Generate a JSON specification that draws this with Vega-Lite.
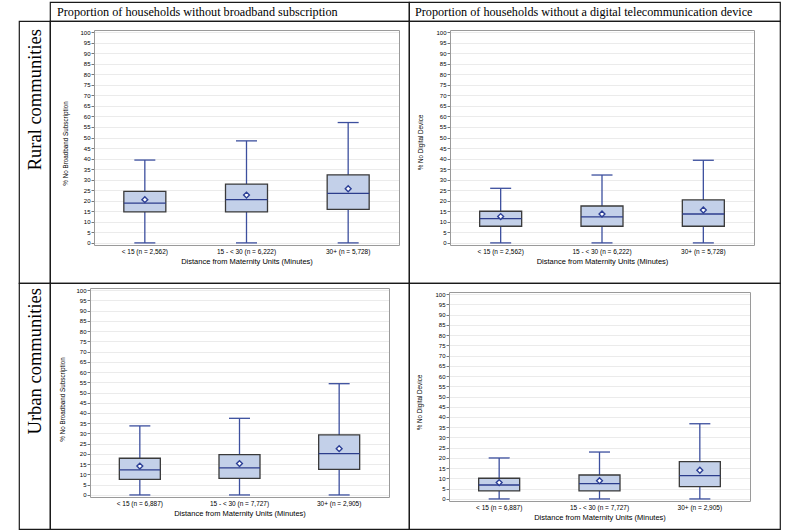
{
  "$schema": "https://vega.github.io/schema/vega-lite/v6.json",
  "padding": {"left": 18, "top": 1, "right": 0, "bottom": 0},
  "background": "white",
  "config": {
    "view": {"stroke": "#1a1a1a", "strokeWidth": 1.2},
    "font": "Liberation Sans",
    "axis": {"labelColor": "#000", "titleColor": "#000", "titleFontWeight": "normal", "domainColor": "#9a9a9a", "tickColor": "#777", "labelFont": "Liberation Sans", "titleFont": "Liberation Sans"}
  },
  "datasets": {
    "ruralBroadband": [
      {"group": "< 15 (n = 2,562)", "min": 0, "q1": 14.7, "median": 18.9, "q3": 24.4, "max": 39.3, "mean": 20.5},
      {"group": "15 - < 30 (n = 6,222)", "min": 0, "q1": 14.7, "median": 20.5, "q3": 27.9, "max": 48.4, "mean": 22.7},
      {"group": "30+ (n = 5,728)", "min": 0, "q1": 15.9, "median": 23.5, "q3": 32.3, "max": 57.1, "mean": 25.7}
    ],
    "ruralDevice": [
      {"group": "< 15 (n = 2,562)", "min": 0, "q1": 7.9, "median": 11.5, "q3": 15.0, "max": 25.9, "mean": 12.5},
      {"group": "15 - < 30 (n = 6,222)", "min": 0, "q1": 7.9, "median": 12.3, "q3": 17.5, "max": 32.2, "mean": 13.7},
      {"group": "30+ (n = 5,728)", "min": 0, "q1": 7.9, "median": 13.7, "q3": 20.4, "max": 39.2, "mean": 15.6}
    ],
    "urbanBroadband": [
      {"group": "< 15 (n = 6,887)", "min": 0, "q1": 7.6, "median": 12.2, "q3": 17.9, "max": 33.7, "mean": 14.1},
      {"group": "15 - < 30 (n = 7,727)", "min": 0, "q1": 8.1, "median": 13.2, "q3": 19.7, "max": 37.4, "mean": 15.3},
      {"group": "30+ (n = 2,905)", "min": 0, "q1": 12.5, "median": 20.2, "q3": 29.3, "max": 54.3, "mean": 22.6}
    ],
    "urbanDevice": [
      {"group": "< 15 (n = 6,887)", "min": 0, "q1": 3.9, "median": 6.8, "q3": 10.1, "max": 20.0, "mean": 8.0},
      {"group": "15 - < 30 (n = 7,727)", "min": 0, "q1": 3.9, "median": 7.5, "q3": 11.7, "max": 22.9, "mean": 8.9},
      {"group": "30+ (n = 2,905)", "min": 0, "q1": 6.0, "median": 11.4, "q3": 18.2, "max": 36.7, "mean": 14.0}
    ]
  },
  "columns": 3,
  "spacing": 0,
  "bounds": "flush",
  "align": "each",
  "concat": [
    {"width": 31, "height": 19, "data": {"values": [{"t": ""}]}, "mark": {"type": "text"}, "encoding": {"text": {"field": "t"}}},
    {"width": 359, "height": 19, "data": {"values": [{"t": "Proportion of households without broadband subscription"}]},
     "mark": {"type": "text", "align": "left", "baseline": "middle", "dx": 7, "font": "Liberation Serif", "fontSize": 12.2, "color": "#000"},
     "encoding": {"text": {"field": "t"}, "x": {"value": 0}}},
    {"width": 371, "height": 19, "data": {"values": [{"t": "Proportion of households without a digital telecommunication device"}]},
     "mark": {"type": "text", "align": "left", "baseline": "middle", "dx": 6, "font": "Liberation Serif", "fontSize": 12.2, "color": "#000"},
     "encoding": {"text": {"field": "t"}, "x": {"value": 0}}},
    {"width": 31, "height": 262, "data": {"values": [{"t": "Rural communities"}]},
     "mark": {"type": "text", "angle": 270, "align": "right", "baseline": "middle", "font": "Liberation Serif", "fontSize": 18.5, "color": "#000"},
     "encoding": {"text": {"field": "t"}, "y": {"value": 8}}},
    {
      "width": 359, "height": 262,
      "data": {"name": "ruralBroadband"},
      "resolve": {"axis": {"x": "independent", "y": "independent"}},
      "layer": [
        {"mark": {"type": "rule", "color": "#3c4f9e", "strokeWidth": 1.3},
         "encoding": {
           "x": {"field": "group", "type": "nominal", "sort": null,
                 "scale": {"type": "band", "range": [44, 349], "paddingInner": 0, "paddingOuter": 0},
                 "axis": {"orient": "bottom", "offset": -38, "title": "Distance from Maternity Units (Minutes)", "titleFontSize": 7.5, "titlePadding": 3, "labelFontSize": 6.5, "labelAngle": 0, "labelPadding": 3, "ticks": false, "grid": false}},
           "y": {"field": "min", "type": "quantitative",
                 "scale": {"domain": [-1, 101], "range": [224, 9], "nice": false, "zero": false},
                 "axis": {"orient": "left", "offset": -44, "title": "% No Broadband Subscription", "titleFontSize": 6.3, "titlePadding": 11, "titleY": 122, "labelFontSize": 6, "labelPadding": 1, "tickSize": 3, "values": [0,5,10,15,20,25,30,35,40,45,50,55,60,65,70,75,80,85,90,95,100], "grid": true, "gridColor": "#ebebeb"}},
           "y2": {"field": "max"}
         }},
        {"mark": {"type": "tick", "color": "#3c4f9e", "size": 21, "thickness": 1.3, "opacity": 1},
         "encoding": {"x": {"field": "group", "type": "nominal", "sort": null, "axis": null}, "y": {"field": "min", "type": "quantitative", "axis": null}}},
        {"mark": {"type": "tick", "color": "#3c4f9e", "size": 21, "thickness": 1.3, "opacity": 1},
         "encoding": {"x": {"field": "group", "type": "nominal", "sort": null, "axis": null}, "y": {"field": "max", "type": "quantitative", "axis": null}}},
        {"mark": {"type": "bar", "size": 42, "fill": "#c3d0e9", "stroke": "#3a3a3a", "strokeWidth": 1.3, "opacity": 1},
         "encoding": {"x": {"field": "group", "type": "nominal", "sort": null, "axis": null}, "y": {"field": "q1", "type": "quantitative", "axis": null}, "y2": {"field": "q3"}}},
        {"mark": {"type": "tick", "color": "#2c3d8c", "size": 42, "thickness": 1.3, "opacity": 1},
         "encoding": {"x": {"field": "group", "type": "nominal", "sort": null, "axis": null}, "y": {"field": "median", "type": "quantitative", "axis": null}}},
        {"mark": {"type": "point", "shape": "diamond", "size": 34, "filled": true, "fill": "white", "stroke": "#2c3f96", "strokeWidth": 1.4, "opacity": 1},
         "encoding": {
           "x": {"field": "group", "type": "nominal", "sort": null, "axis": {"orient": "top", "offset": -9, "labels": false, "ticks": false, "title": null, "grid": false}},
           "y": {"field": "mean", "type": "quantitative", "axis": {"orient": "right", "offset": -10, "labels": false, "ticks": false, "title": null, "grid": false}}
         }}
      ]
    },
    {
      "width": 371, "height": 262,
      "data": {"name": "ruralDevice"},
      "resolve": {"axis": {"x": "independent", "y": "independent"}},
      "layer": [
        {"mark": {"type": "rule", "color": "#3c4f9e", "strokeWidth": 1.3},
         "encoding": {
           "x": {"field": "group", "type": "nominal", "sort": null,
                 "scale": {"type": "band", "range": [41, 345], "paddingInner": 0, "paddingOuter": 0},
                 "axis": {"orient": "bottom", "offset": -38, "title": "Distance from Maternity Units (Minutes)", "titleFontSize": 7.5, "titlePadding": 3, "labelFontSize": 6.5, "labelAngle": 0, "labelPadding": 3, "ticks": false, "grid": false}},
           "y": {"field": "min", "type": "quantitative",
                 "scale": {"domain": [-1, 101], "range": [224, 9], "nice": false, "zero": false},
                 "axis": {"orient": "left", "offset": -41, "title": "% No Digital Device", "titleFontSize": 6.3, "titlePadding": 12, "titleY": 121, "labelFontSize": 6, "labelPadding": 1, "tickSize": 3, "values": [0,5,10,15,20,25,30,35,40,45,50,55,60,65,70,75,80,85,90,95,100], "grid": true, "gridColor": "#ebebeb"}},
           "y2": {"field": "max"}
         }},
        {"mark": {"type": "tick", "color": "#3c4f9e", "size": 21, "thickness": 1.3, "opacity": 1},
         "encoding": {"x": {"field": "group", "type": "nominal", "sort": null, "axis": null}, "y": {"field": "min", "type": "quantitative", "axis": null}}},
        {"mark": {"type": "tick", "color": "#3c4f9e", "size": 21, "thickness": 1.3, "opacity": 1},
         "encoding": {"x": {"field": "group", "type": "nominal", "sort": null, "axis": null}, "y": {"field": "max", "type": "quantitative", "axis": null}}},
        {"mark": {"type": "bar", "size": 42, "fill": "#c3d0e9", "stroke": "#3a3a3a", "strokeWidth": 1.3, "opacity": 1},
         "encoding": {"x": {"field": "group", "type": "nominal", "sort": null, "axis": null}, "y": {"field": "q1", "type": "quantitative", "axis": null}, "y2": {"field": "q3"}}},
        {"mark": {"type": "tick", "color": "#2c3d8c", "size": 42, "thickness": 1.3, "opacity": 1},
         "encoding": {"x": {"field": "group", "type": "nominal", "sort": null, "axis": null}, "y": {"field": "median", "type": "quantitative", "axis": null}}},
        {"mark": {"type": "point", "shape": "diamond", "size": 34, "filled": true, "fill": "white", "stroke": "#2c3f96", "strokeWidth": 1.4, "opacity": 1},
         "encoding": {
           "x": {"field": "group", "type": "nominal", "sort": null, "axis": {"orient": "top", "offset": -9, "labels": false, "ticks": false, "title": null, "grid": false}},
           "y": {"field": "mean", "type": "quantitative", "axis": {"orient": "right", "offset": -26, "labels": false, "ticks": false, "title": null, "grid": false}}
         }}
      ]
    },
    {"width": 31, "height": 246, "data": {"values": [{"t": "Urban communities"}]},
     "mark": {"type": "text", "angle": 270, "align": "right", "baseline": "middle", "font": "Liberation Serif", "fontSize": 18.5, "color": "#000"},
     "encoding": {"text": {"field": "t"}, "y": {"value": 5}}},
    {
      "width": 359, "height": 246,
      "data": {"name": "urbanBroadband"},
      "resolve": {"axis": {"x": "independent", "y": "independent"}},
      "layer": [
        {"mark": {"type": "rule", "color": "#3c4f9e", "strokeWidth": 1.3},
         "encoding": {
           "x": {"field": "group", "type": "nominal", "sort": null,
                 "scale": {"type": "band", "range": [40, 339], "paddingInner": 0, "paddingOuter": 0},
                 "axis": {"orient": "bottom", "offset": -32, "title": "Distance from Maternity Units (Minutes)", "titleFontSize": 7.5, "titlePadding": 3, "labelFontSize": 6.5, "labelAngle": 0, "labelPadding": 3, "ticks": false, "grid": false}},
           "y": {"field": "min", "type": "quantitative",
                 "scale": {"domain": [-1, 101], "range": [214, 5], "nice": false, "zero": false},
                 "axis": {"orient": "left", "offset": -40, "title": "% No Broadband Subscription", "titleFontSize": 6.3, "titlePadding": 10, "titleY": 116, "labelFontSize": 6, "labelPadding": 1, "tickSize": 3, "values": [0,5,10,15,20,25,30,35,40,45,50,55,60,65,70,75,80,85,90,95,100], "grid": true, "gridColor": "#ebebeb"}},
           "y2": {"field": "max"}
         }},
        {"mark": {"type": "tick", "color": "#3c4f9e", "size": 21, "thickness": 1.3, "opacity": 1},
         "encoding": {"x": {"field": "group", "type": "nominal", "sort": null, "axis": null}, "y": {"field": "min", "type": "quantitative", "axis": null}}},
        {"mark": {"type": "tick", "color": "#3c4f9e", "size": 21, "thickness": 1.3, "opacity": 1},
         "encoding": {"x": {"field": "group", "type": "nominal", "sort": null, "axis": null}, "y": {"field": "max", "type": "quantitative", "axis": null}}},
        {"mark": {"type": "bar", "size": 41, "fill": "#c3d0e9", "stroke": "#3a3a3a", "strokeWidth": 1.3, "opacity": 1},
         "encoding": {"x": {"field": "group", "type": "nominal", "sort": null, "axis": null}, "y": {"field": "q1", "type": "quantitative", "axis": null}, "y2": {"field": "q3"}}},
        {"mark": {"type": "tick", "color": "#2c3d8c", "size": 41, "thickness": 1.3, "opacity": 1},
         "encoding": {"x": {"field": "group", "type": "nominal", "sort": null, "axis": null}, "y": {"field": "median", "type": "quantitative", "axis": null}}},
        {"mark": {"type": "point", "shape": "diamond", "size": 34, "filled": true, "fill": "white", "stroke": "#2c3f96", "strokeWidth": 1.4, "opacity": 1},
         "encoding": {
           "x": {"field": "group", "type": "nominal", "sort": null, "axis": {"orient": "top", "offset": -5, "labels": false, "ticks": false, "title": null, "grid": false}},
           "y": {"field": "mean", "type": "quantitative", "axis": {"orient": "right", "offset": -20, "labels": false, "ticks": false, "title": null, "grid": false}}
         }}
      ]
    },
    {
      "width": 371, "height": 246,
      "data": {"name": "urbanDevice"},
      "resolve": {"axis": {"x": "independent", "y": "independent"}},
      "layer": [
        {"mark": {"type": "rule", "color": "#3c4f9e", "strokeWidth": 1.3},
         "encoding": {
           "x": {"field": "group", "type": "nominal", "sort": null,
                 "scale": {"type": "band", "range": [40, 341], "paddingInner": 0, "paddingOuter": 0},
                 "axis": {"orient": "bottom", "offset": -28, "title": "Distance from Maternity Units (Minutes)", "titleFontSize": 7.5, "titlePadding": 3, "labelFontSize": 6.5, "labelAngle": 0, "labelPadding": 3, "ticks": false, "grid": false}},
           "y": {"field": "min", "type": "quantitative",
                 "scale": {"domain": [-1, 101], "range": [218, 9], "nice": false, "zero": false},
                 "axis": {"orient": "left", "offset": -40, "title": "% No Digital Device", "titleFontSize": 6.3, "titlePadding": 12, "titleY": 119, "labelFontSize": 6, "labelPadding": 1, "tickSize": 3, "values": [0,5,10,15,20,25,30,35,40,45,50,55,60,65,70,75,80,85,90,95,100], "grid": true, "gridColor": "#ebebeb"}},
           "y2": {"field": "max"}
         }},
        {"mark": {"type": "tick", "color": "#3c4f9e", "size": 21, "thickness": 1.3, "opacity": 1},
         "encoding": {"x": {"field": "group", "type": "nominal", "sort": null, "axis": null}, "y": {"field": "min", "type": "quantitative", "axis": null}}},
        {"mark": {"type": "tick", "color": "#3c4f9e", "size": 21, "thickness": 1.3, "opacity": 1},
         "encoding": {"x": {"field": "group", "type": "nominal", "sort": null, "axis": null}, "y": {"field": "max", "type": "quantitative", "axis": null}}},
        {"mark": {"type": "bar", "size": 41, "fill": "#c3d0e9", "stroke": "#3a3a3a", "strokeWidth": 1.3, "opacity": 1},
         "encoding": {"x": {"field": "group", "type": "nominal", "sort": null, "axis": null}, "y": {"field": "q1", "type": "quantitative", "axis": null}, "y2": {"field": "q3"}}},
        {"mark": {"type": "tick", "color": "#2c3d8c", "size": 41, "thickness": 1.3, "opacity": 1},
         "encoding": {"x": {"field": "group", "type": "nominal", "sort": null, "axis": null}, "y": {"field": "median", "type": "quantitative", "axis": null}}},
        {"mark": {"type": "point", "shape": "diamond", "size": 34, "filled": true, "fill": "white", "stroke": "#2c3f96", "strokeWidth": 1.4, "opacity": 1},
         "encoding": {
           "x": {"field": "group", "type": "nominal", "sort": null, "axis": {"orient": "top", "offset": -9, "labels": false, "ticks": false, "title": null, "grid": false}},
           "y": {"field": "mean", "type": "quantitative", "axis": {"orient": "right", "offset": -30, "labels": false, "ticks": false, "title": null, "grid": false}}
         }}
      ]
    }
  ]
}
